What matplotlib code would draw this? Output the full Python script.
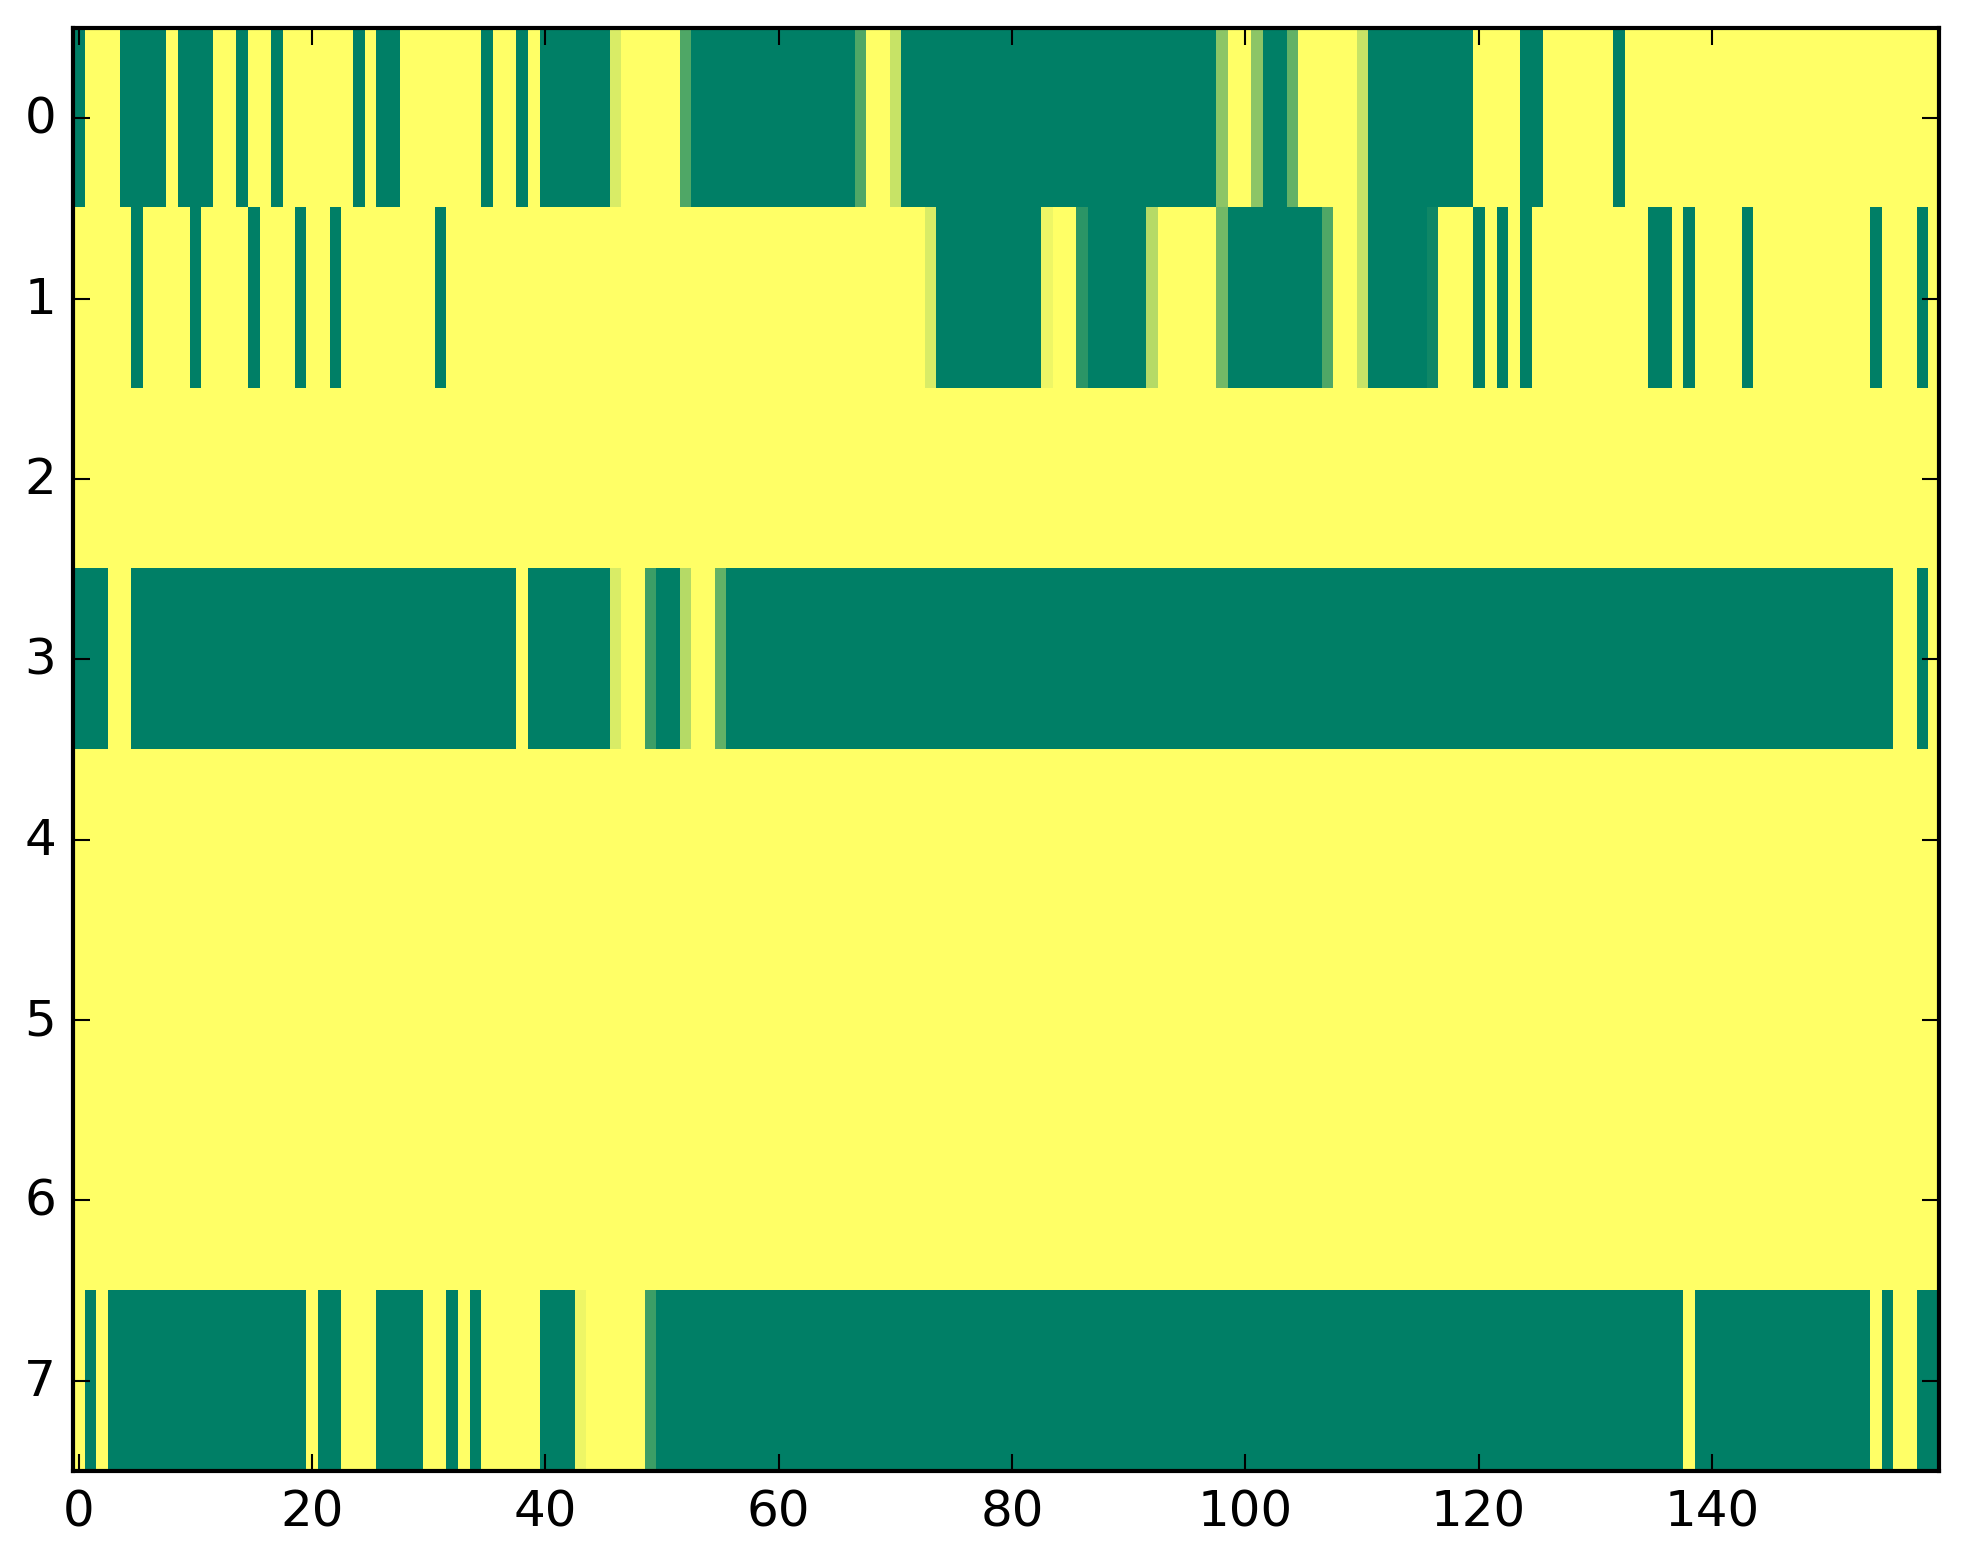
import numpy as np
import matplotlib
matplotlib.use("Agg")
import matplotlib.pyplot as plt

# --- Read-off values (0 = green, 1 = yellow on the 'summer' map) ---
row_0 = [0, 1, 1, 1, 0, 0, 0, 0, 1, 0, 0, 0, 1, 1, 0, 1, 1, 0, 1, 1,
         1, 1, 1, 1, 0, 1, 0, 0, 1, 1, 1, 1, 1, 1, 1, 0, 1, 1, 0, 1,
         0, 0, 0, 0, 0, 0, .85, 1, 1, 1, 1, 1, .31, 0, 0, 0, 0, 0, 0, 0,
         0, 0, 0, 0, 0, 0, 0, .31, 1, 1, .78, 0, 0, 0, 0, 0, 0, 0, 0, 0,
         0, 0, 0, 0, 0, 0, 0, 0, 0, 0, 0, 0, 0, 0, 0, 0, 0, 0, .55, 1,
         1, .55, 0, 0, .39, 1, 1, 1, 1, 1, .78, 0, 0, 0, 0, 0, 0, 0, 0, 0,
         1, 1, 1, 1, 0, 0, 1, 1, 1, 1, 1, 1, 0, 1, 1, 1, 1, 1, 1, 1,
         1, 1, 1, 1, 1, 1, 1, 1, 1, 1, 1, 1, 1, 1, 1, 1, 1, 1, 1, 1]

row_1 = [1, 1, 1, 1, 1, 0, 1, 1, 1, 1, 0, 1, 1, 1, 1, 0, 1, 1, 1, 0,
         1, 1, 0, 1, 1, 1, 1, 1, 1, 1, 1, 0, 1, 1, 1, 1, 1, 1, 1, 1,
         1, 1, 1, 1, 1, 1, 1, 1, 1, 1, 1, 1, 1, 1, 1, 1, 1, 1, 1, 1,
         1, 1, 1, 1, 1, 1, 1, 1, 1, 1, 1, 1, 1, .85, 0, 0, 0, 0, 0, 0,
         0, 0, 0, .93, 1, 1, .17, 0, 0, 0, 0, 0, .71, 1, 1, 1, 1, 1, .45, 0,
         0, 0, 0, 0, 0, 0, 0, .31, 1, 1, .78, 0, 0, 0, 0, 0, .06, 1, 1, 1,
         0, 1, 0, 1, 0, 1, 1, 1, 1, 1, 1, 1, 1, 1, 1, 0, 0, 1, 0, 1,
         1, 1, 1, 0, 1, 1, 1, 1, 1, 1, 1, 1, 1, 1, 0, 1, 1, 1, 0, 1]

row_2 = [1] * 160   # plain yellow
row_4 = [1] * 160
row_5 = [1] * 160
row_6 = [1] * 160

row_3 = [0, 0, 0, 1, 1, 0, 0, 0, 0, 0, 0, 0, 0, 0, 0, 0, 0, 0, 0, 0,
         0, 0, 0, 0, 0, 0, 0, 0, 0, 0, 0, 0, 0, 0, 0, 0, 0, 0, 1, 0,
         0, 0, 0, 0, 0, 0, .85, 1, 1, .24, 0, 0, .71, 1, 1, .39, 0, 0, 0, 0,
         0, 0, 0, 0, 0, 0, 0, 0, 0, 0, 0, 0, 0, 0, 0, 0, 0, 0, 0, 0,
         0, 0, 0, 0, 0, 0, 0, 0, 0, 0, 0, 0, 0, 0, 0, 0, 0, 0, 0, 0,
         0, 0, 0, 0, 0, 0, 0, 0, 0, 0, 0, 0, 0, 0, 0, 0, 0, 0, 0, 0,
         0, 0, 0, 0, 0, 0, 0, 0, 0, 0, 0, 0, 0, 0, 0, 0, 0, 0, 0, 0,
         0, 0, 0, 0, 0, 0, 0, 0, 0, 0, 0, 0, 0, 0, 0, 0, 1, 1, 0, 1]

row_7 = [1, 0, 1, 0, 0, 0, 0, 0, 0, 0, 0, 0, 0, 0, 0, 0, 0, 0, 0, 0,
         1, 0, 0, 1, 1, 1, 0, 0, 0, 0, 1, 1, 0, 1, 0, 1, 1, 1, 1, 1,
         0, 0, 0, .93, 1, 1, 1, 1, 1, .24, 0, 0, 0, 0, 0, 0, 0, 0, 0, 0,
         0, 0, 0, 0, 0, 0, 0, 0, 0, 0, 0, 0, 0, 0, 0, 0, 0, 0, 0, 0,
         0, 0, 0, 0, 0, 0, 0, 0, 0, 0, 0, 0, 0, 0, 0, 0, 0, 0, 0, 0,
         0, 0, 0, 0, 0, 0, 0, 0, 0, 0, 0, 0, 0, 0, 0, 0, 0, 0, 0, 0,
         0, 0, 0, 0, 0, 0, 0, 0, 0, 0, 0, 0, 0, 0, 0, 0, 0, 0, 1, 0,
         0, 0, 0, 0, 0, 0, 0, 0, 0, 0, 0, 0, 0, 0, 1, 0, 1, 1, 0, 0]

x_ticks = [0, 20, 40, 60, 80, 100, 120, 140]
y_ticks = [0, 1, 2, 3, 4, 5, 6, 7]

# --- Build the matrix ---
grid = np.array([row_0, row_1, row_2, row_3, row_4, row_5, row_6, row_7], dtype=float)

# --- Plot ---
plt.style.use("classic")
fig = plt.figure(figsize=(1963 / 300, 1564 / 300), dpi=300, facecolor="white")
ax = fig.add_axes([0.0371, 0.0588, 0.9509, 0.9227])
ax.imshow(grid, cmap="summer", aspect="auto", interpolation="nearest", vmin=0, vmax=1)
ax.set_xticks(x_ticks)
ax.set_yticks(y_ticks)
fig.savefig("out.png", dpi=300, facecolor="white")
